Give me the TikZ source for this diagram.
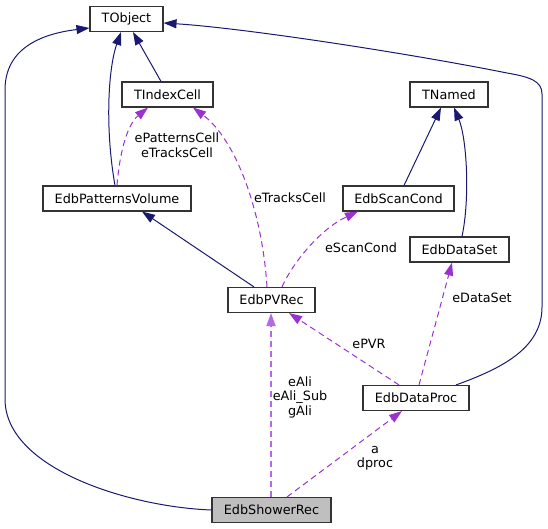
\documentclass[tikz,border=0pt]{standalone}
\usepackage{fontspec}
\setmainfont{DejaVu Sans}
\usetikzlibrary{arrows.meta}
\definecolor{navy}{HTML}{191970}
\definecolor{purp}{HTML}{9A32CD}
\definecolor{purplight}{HTML}{B46AE6}
\definecolor{grayfill}{HTML}{BFBFBF}
\begin{document}
\begin{tikzpicture}[x=1pt,y=1pt,
  cls/.style={draw=black!80, line width=1.1pt, fill=white, minimum height=25pt, inner sep=0pt, font=\fontsize{12.8}{15}\selectfont},
  inh/.style={draw=navy, line width=1pt, -{Triangle[length=13pt,width=9pt]}, fill=none},
  use/.style={draw=purp, line width=1pt, dash pattern=on 6pt off 4pt, -{Triangle[length=13pt,width=9pt]}},
  lbl/.style={font=\fontsize{12.8}{14.5}\selectfont, align=center, inner sep=0pt}]
\useasboundingbox (0,0) rectangle (548,529);

% nodes
\node[cls, minimum width=73pt]  (tobj) at (126.5,510) {TObject};
\node[cls, minimum width=91pt]  (tic)  at (167.5,434.5) {TIndexCell};
\node[cls, minimum width=148pt] (epv)  at (117,330.5) {EdbPatternsVolume};
\node[cls, minimum width=78pt]  (tnm)  at (449,434.5) {TNamed};
\node[cls, minimum width=111pt] (esc)  at (398.5,330.5) {EdbScanCond};
\node[cls, minimum width=99pt]  (eds)  at (459.5,279.5) {EdbDataSet};
\node[cls, minimum width=87pt]  (pvr)  at (271.5,229) {EdbPVRec};
\node[cls, minimum width=106pt] (edp)  at (416,131) {EdbDataProc};
\node[cls, minimum width=119pt, fill=grayfill] (esr) at (271.5,19) {EdbShowerRec};

% inheritance edges
\draw[inh] ([xshift=-6.5pt]tic.north) -- ([xshift=6.5pt]tobj.south);
\draw[inh] ([xshift=-2pt]epv.north) .. controls (105,400) and (108,460) .. ([xshift=-5.5pt]tobj.south);
\draw[inh] ([xshift=-17.5pt]pvr.north) -- ([xshift=25pt]epv.south);
\draw[inh] ([xshift=5.5pt]esc.north) -- ([xshift=-8pt]tnm.south);
\draw[inh] ([xshift=2.5pt]eds.north) .. controls (470,330) and (467,390) .. ([xshift=5pt]tnm.south);
\draw[inh] ([xshift=40pt]edp.north) .. controls (500,160) and (542,180) .. (542,222) -- (542,435) .. controls (542,448) and (530,452) .. (507,456) .. controls (407,476) and (243,501) .. ([yshift=-4pt]tobj.east);
\draw[inh] (esr.west) .. controls (130,22) and (5,60) .. (5,130) -- (5,439) .. controls (5,480) and (40,495) .. ([yshift=-9pt]tobj.west);

% usage edges
\draw[use] (epv.north) .. controls (120,380) and (128,405) .. ([xshift=-19.5pt]tic.south);
\node[lbl] (l1) at (177,384) {ePatternsCell\\eTracksCell};
\draw[use] ([xshift=-4.5pt]pvr.north) .. controls (262,320) and (235,390) .. ([xshift=25.5pt]tic.south);
\node[lbl] (l2) at (290,331) {eTracksCell};
\draw[use] ([xshift=10.5pt]pvr.north) .. controls (292,265) and (320,300) .. ([xshift=-40.5pt]esc.south);
\node[lbl] (l3) at (361,281) {eScanCond};
\draw[use] ([xshift=3pt]edp.north) -- ([xshift=-7.5pt]eds.south);
\node[lbl] (l4) at (482,231) {eDataSet};
\draw[use] ([xshift=-17pt]edp.north) -- ([xshift=17.5pt]pvr.south);
\node[lbl] (l5) at (369,185) {ePVR};
\draw[use, draw=purplight, line width=1.8pt] ([xshift=-0.5pt]esr.north) -- ([xshift=-0.5pt]pvr.south);
\node[lbl] (l6) at (300,132) {eAli\\eAli\_Sub\\gAli};
\draw[use] ([xshift=15.5pt]esr.north) -- ([xshift=-14pt]edp.south);
\node[lbl] (l7) at (375,71) {a\\dproc};
\end{tikzpicture}
\end{document}
